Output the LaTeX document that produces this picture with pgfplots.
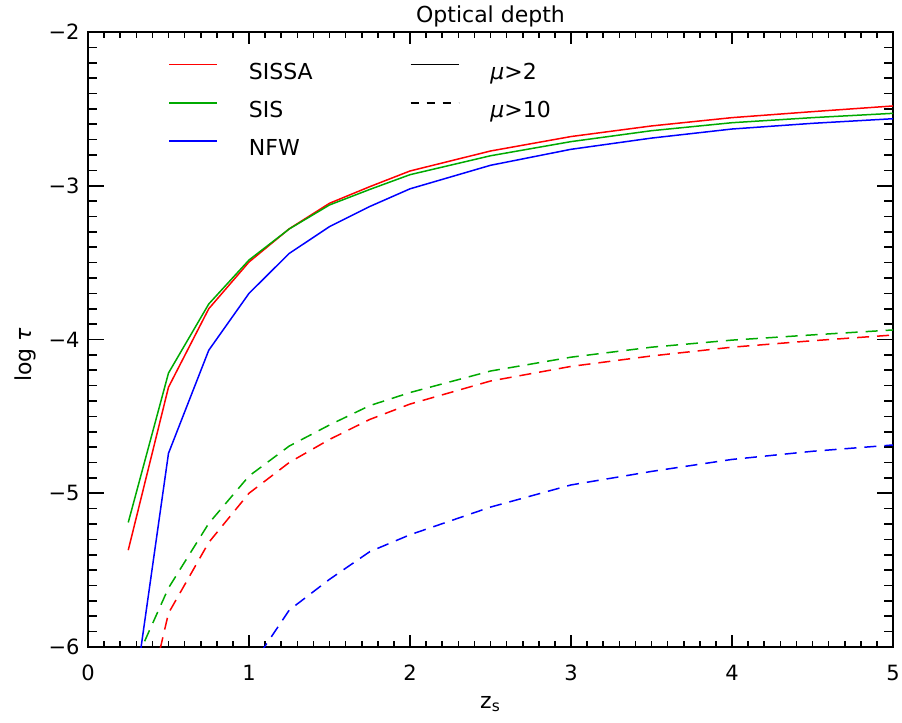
\documentclass[border=0pt]{standalone}
\usepackage{pgfplots}
\pgfplotsset{compat=1.18}
\usepackage{fontspec}
\setmainfont{DejaVu Sans}
\usetikzlibrary{calc}
\definecolor{cred}{RGB}{255,0,0}
\definecolor{cgreen}{RGB}{0,170,0}
\definecolor{cblue}{RGB}{0,0,255}
\begin{document}
\fontsize{11}{13}\selectfont
\begin{tikzpicture}
\begin{axis}[
  name=ax,
  scale only axis,
  width=402.5pt, height=307.5pt,
  xmin=0, xmax=5, ymin=-6, ymax=-2,
  xtick={0,1,2,3,4,5},
  ytick={-6,-5,-4,-3,-2},
  yticklabels={−6,−5,−4,−3,−2},
  minor x tick num=9, minor y tick num=9,
  tick align=inside,
  axis line style={line width=1pt},
  x tick style={line width=0.8pt, black, /pgfplots/major tick length=6pt, /pgfplots/minor tick length=3pt},
  y tick style={line width=0.8pt, black, /pgfplots/major tick length=8pt, /pgfplots/minor tick length=4.5pt},
  /pgf/number format/assume math mode=true,
  xticklabel style={font=\fontsize{10.5}{12}\selectfont, anchor=north, inner sep=0pt, yshift=-9pt},
  yticklabel style={font=\fontsize{10.5}{12}\selectfont, anchor=east, inner sep=0pt, xshift=-4pt},
  title={Optical depth},
  title style={at={(axis description cs:0.5,1)}, anchor=base, inner sep=0pt, yshift=-1pt},
  xlabel={z\textsubscript{s}},
  xlabel style={at={(axis description cs:0.5,-0.0992)}, anchor=base, inner sep=0pt},
  ylabel={log \textit{τ}},
  ylabel style={at={(axis description cs:-0.078,0.475)}, anchor=center, rotate=0, inner sep=0pt},
  clip=true,
  legend columns=2,
  legend cell align=left,
  legend image code/.code={\draw[#1] (0pt,4.3pt) -- (24pt,4.3pt);},
  legend style={draw=none, fill=none, inner sep=0pt, at={(0.0994,0.95)}, anchor=north west,
    column sep=15.5pt, row sep=9.1pt,
    nodes={inner sep=0pt, text height=8pt, text depth=2pt}},
]
\addlegendimage{color=cred, line width=0.75pt}
\addlegendentry{\makebox[65pt][l]{SISSA}}
\addlegendimage{color=black, line width=0.75pt}
\addlegendentry{\textit{μ}>2}
\addlegendimage{color=cgreen, line width=0.75pt}
\addlegendentry{\makebox[65pt][l]{SIS}}
\addlegendimage{color=black, line width=0.75pt, dash pattern=on 4pt off 4pt}
\addlegendentry{\textit{μ}>10}
\addlegendimage{color=cblue, line width=0.75pt}
\addlegendentry{\makebox[65pt][l]{NFW}}
\addlegendimage{empty legend}
\addlegendentry{}

% SISSA mu>2
\addplot[cred, line width=0.75pt, forget plot] coordinates {
(0.25,-5.37) (0.5,-4.31) (0.75,-3.80) (1.0,-3.496) (1.25,-3.28) (1.5,-3.114)
(1.75,-3.006) (2.0,-2.904) (2.5,-2.774) (3.0,-2.68) (3.5,-2.611) (4.0,-2.557)
(4.5,-2.518) (5.0,-2.481)};
% SIS mu>2
\addplot[cgreen, line width=0.75pt, forget plot] coordinates {
(0.25,-5.19) (0.5,-4.218) (0.75,-3.769) (1.0,-3.483) (1.25,-3.281) (1.5,-3.125)
(1.75,-3.024) (2.0,-2.928) (2.5,-2.805) (3.0,-2.713) (3.5,-2.642) (4.0,-2.59)
(4.5,-2.557) (5.0,-2.529)};
% NFW mu>2
\addplot[cblue, line width=0.75pt, forget plot] coordinates {
(0.25,-6.59) (0.5,-4.74) (0.75,-4.07) (1.0,-3.70) (1.25,-3.44) (1.5,-3.266)
(1.75,-3.135) (2.0,-3.02) (2.5,-2.867) (3.0,-2.763) (3.5,-2.69) (4.0,-2.631)
(4.5,-2.594) (5.0,-2.564)};
% SISSA mu>10
\addplot[cred, line width=0.75pt, dash pattern=on 6pt off 4pt, forget plot] coordinates {
(0.25,-6.9) (0.5,-5.78) (0.75,-5.32) (1.0,-5.00) (1.25,-4.80) (1.5,-4.65)
(1.75,-4.52) (2.0,-4.42) (2.5,-4.27) (3.0,-4.175) (3.5,-4.107) (4.0,-4.05)
(4.5,-4.008) (5.0,-3.971)};
% SIS mu>10
\addplot[cgreen, line width=0.75pt, dash pattern=on 6pt off 4pt, forget plot] coordinates {
(0.25,-6.2) (0.5,-5.616) (0.75,-5.196) (1.0,-4.888) (1.25,-4.693) (1.5,-4.556)
(1.75,-4.43) (2.0,-4.345) (2.5,-4.205) (3.0,-4.115) (3.5,-4.05) (4.0,-4.004)
(4.5,-3.97) (5.0,-3.938)};
% NFW mu>10
\addplot[cblue, line width=0.75pt, dash pattern=on 6pt off 4pt, forget plot] coordinates {
(1.0,-6.15) (1.25,-5.76) (1.5,-5.56) (1.75,-5.38) (2.0,-5.27) (2.5,-5.09)
(3.0,-4.946) (3.5,-4.858) (4.0,-4.78) (4.5,-4.727) (5.0,-4.686)};
\end{axis}
\pgfresetboundingbox
\path[use as bounding box] ([shift={(-44pt,-37.5pt)}]ax.south west) rectangle ([shift={(4.5pt,16pt)}]ax.north east);
\end{tikzpicture}
\end{document}
